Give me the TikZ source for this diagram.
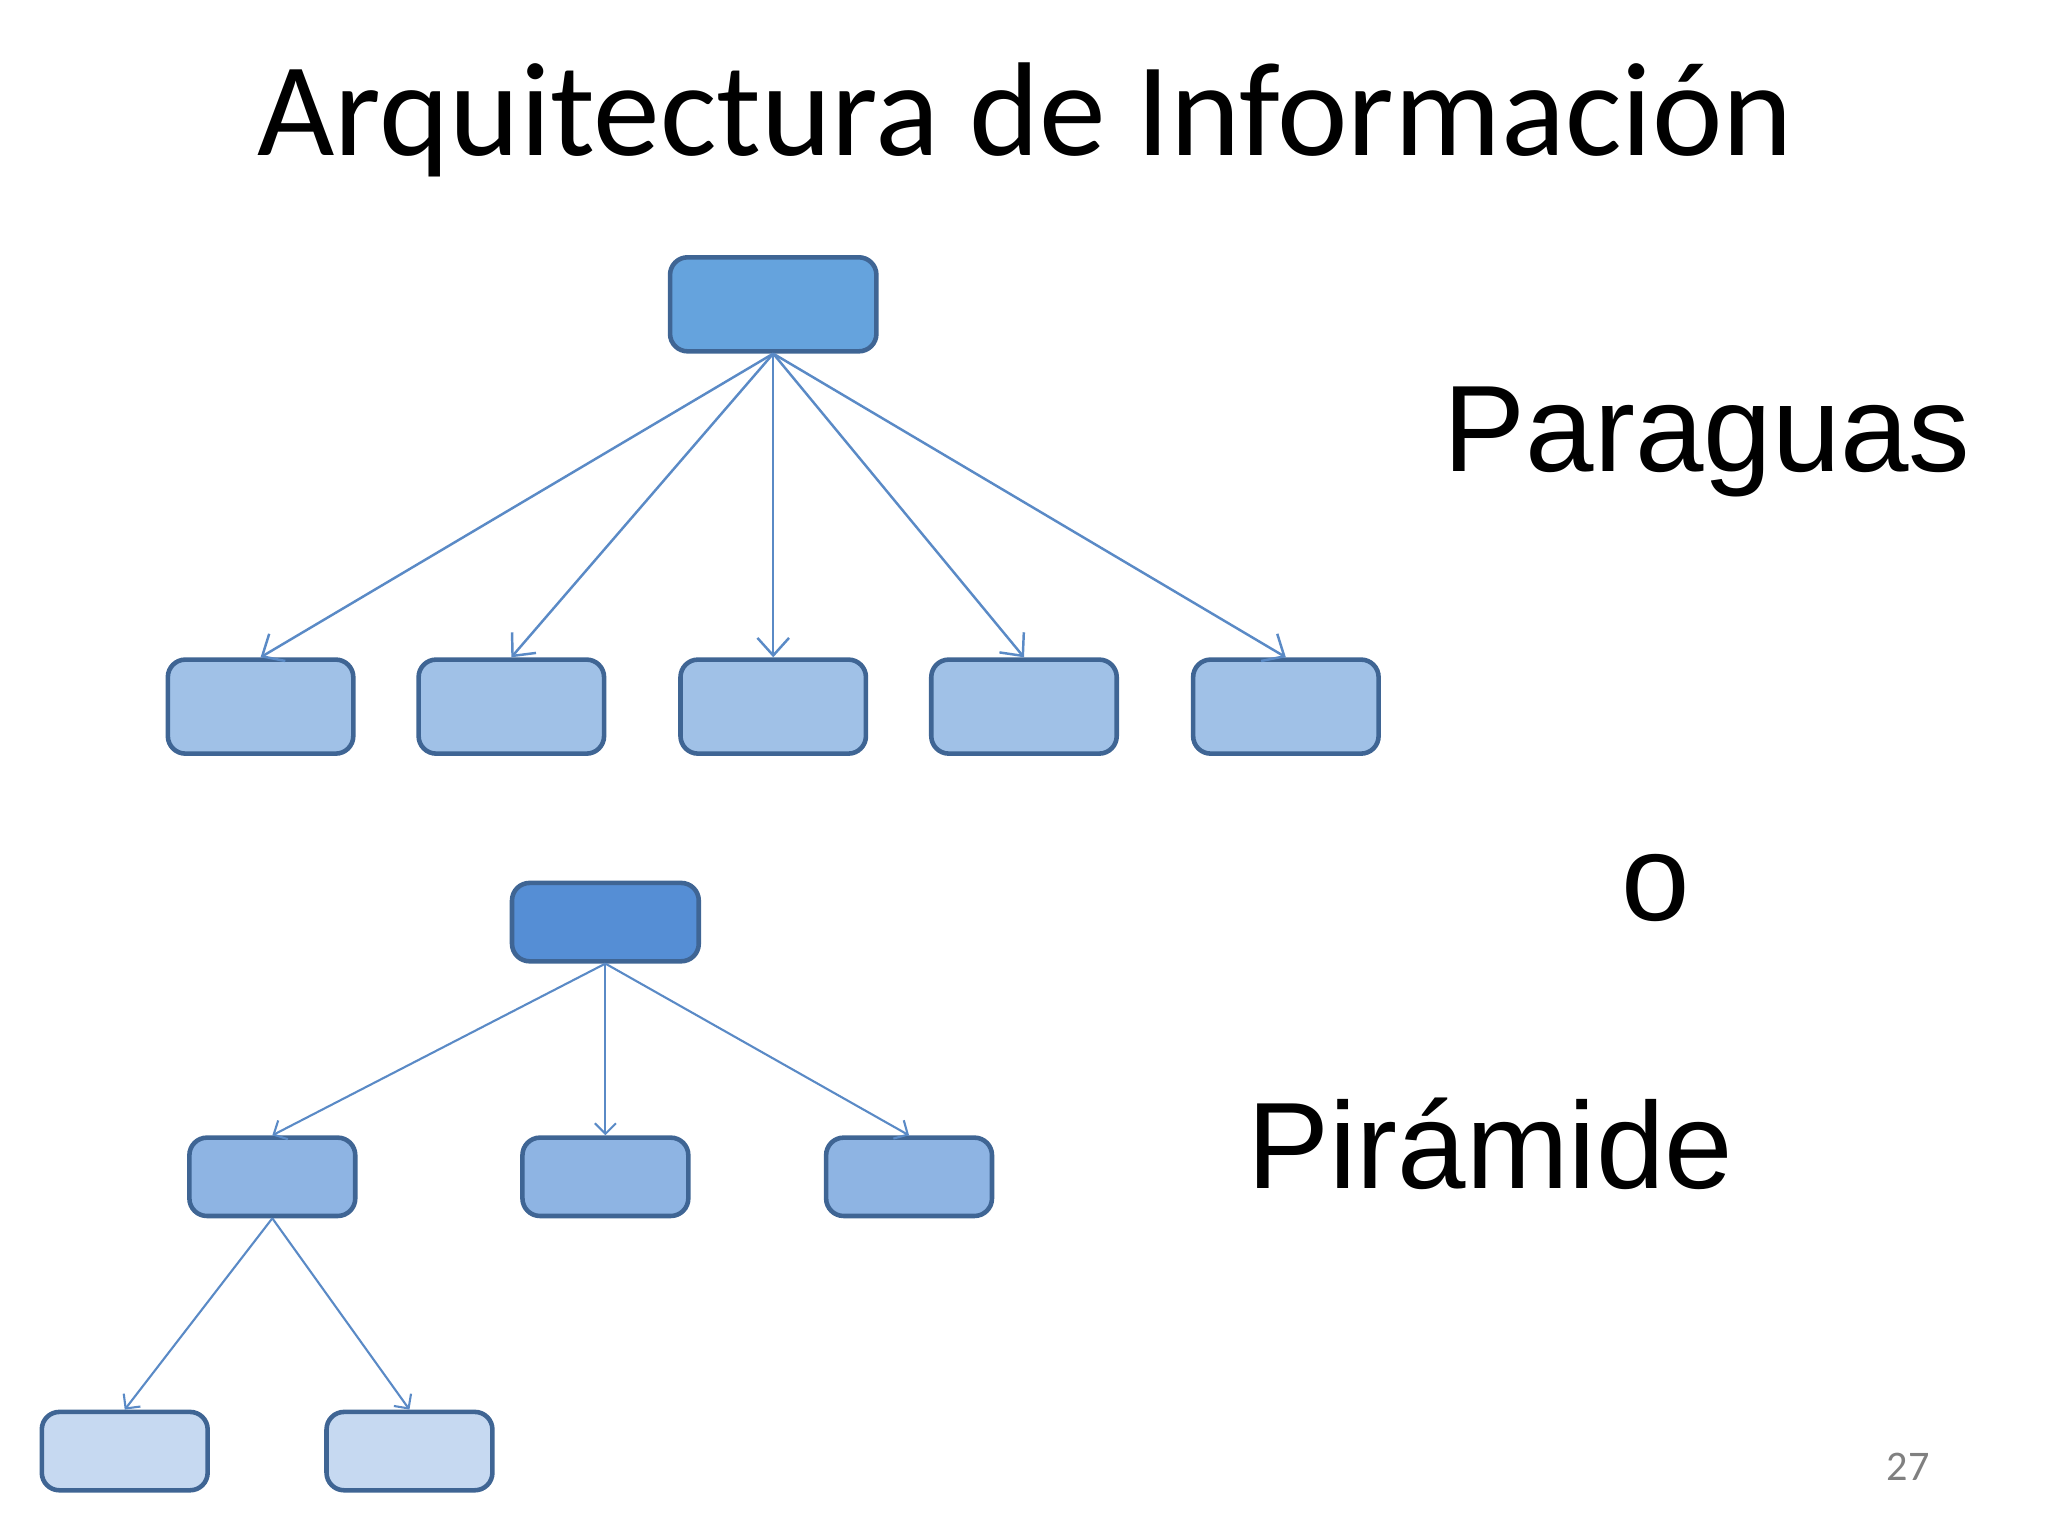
\documentclass[tikz,border=0pt]{standalone}
\usepackage{fontspec}
\setmainfont{Carlito}
\newfontfamily\arialf{Liberation Sans}
\usetikzlibrary{arrows.meta}
\definecolor{bord}{HTML}{3F6594}
\definecolor{lnc}{HTML}{5A8AC6}
\definecolor{ctop}{HTML}{65A3DD}
\definecolor{cchild}{HTML}{A0C1E7}
\definecolor{ptop}{HTML}{558ED5}
\definecolor{pmid}{HTML}{8EB4E3}
\definecolor{pbot}{HTML}{C6D9F1}
\tikzset{
 bx/.style={draw=bord,line width=1.3pt,rounded corners=5pt,minimum width=#1*0.01306cm},
 conn/.style={draw=lnc,line width=0.7pt,-{Straight Barb[length=5pt,width=9pt]}},
 connp/.style={draw=lnc,line width=0.6pt,-{Straight Barb[length=3pt,width=6pt]}},
 big/.style={font=\arialf\fontsize{35}{40}\selectfont}
}
\begin{document}
\begin{tikzpicture}[x=0.01306cm,y=-0.01306cm]
\useasboundingbox (0,0) rectangle (1568,1176);
\node[font=\fontsize{38}{44}\selectfont] (title) at (785,92) {Arquitectura de Información};
\node[bx=158,minimum height=72*0.01306cm,fill=ctop] (t) at (592,233) {};
\foreach \i/\x in {1/199.5,2/391.5,3/592,4/784,5/984.5}{
 \node[bx=142,minimum height=72*0.01306cm,fill=cchild] (c\i) at (\x,541) {};
 \draw[conn] (t.south) -- (c\i.north);
}
\node[bx=143,minimum height=60*0.01306cm,fill=ptop] (p) at (463.5,706) {};
\foreach \i/\x in {1/208.5,2/463.5,3/696}{
 \node[bx=127,minimum height=60*0.01306cm,fill=pmid] (m\i) at (\x,901) {};
 \draw[connp] (p.south) -- (m\i.north);
}
\foreach \i/\x in {1/95.5,2/313.5}{
 \node[bx=127,minimum height=60*0.01306cm,fill=pbot] (b\i) at (\x,1111) {};
 \draw[connp] (m1.south) -- (b\i.north);
}
\node[big] (para) at (1307,338) {Paraguas};
\node[big] (o) at (1268,680) {o};
\node[big] (pir) at (1141,876) {Pirámide};
\node[font=\fontsize{12}{14}\selectfont,text=gray] (num) at (1461,1123) {27};
\end{tikzpicture}
\end{document}
